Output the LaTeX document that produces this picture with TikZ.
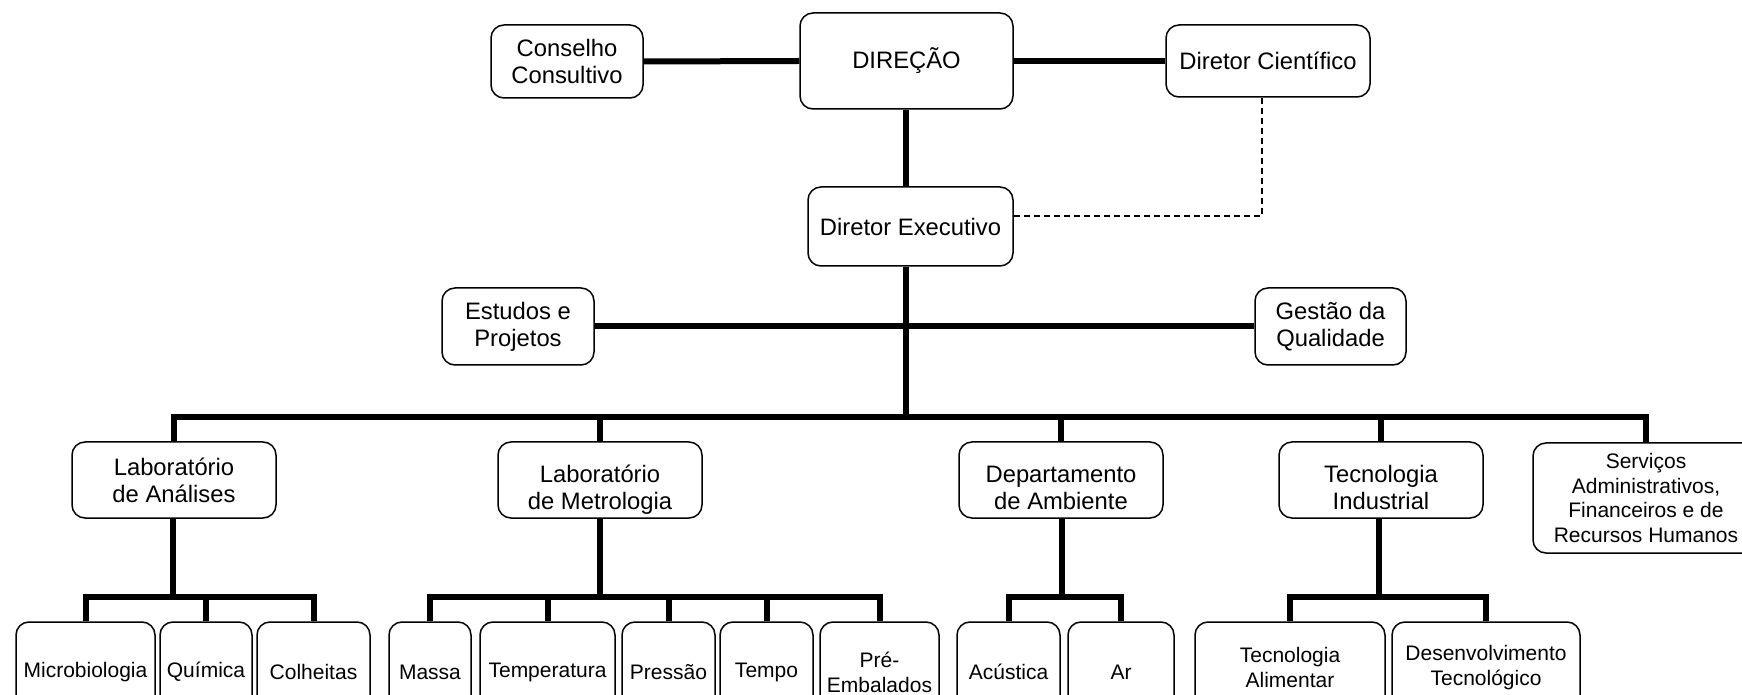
\documentclass[tikz,border=0pt]{standalone}
\usepackage{fontspec}
\setmainfont{Liberation Sans}
\begin{document}
\begin{tikzpicture}[x=0.5pt,y=-0.5pt,
  box/.style={draw, rounded corners=6.5pt, line width=0.75pt, align=center, inner sep=1pt,
    font=\fontsize{11.9}{13.5}\selectfont},
  sbox/.style={box, font=\fontsize{10.5}{12.4}\selectfont},
  sz/.style 2 args={minimum width=#1*0.5pt, minimum height=#2*0.5pt},
  conn/.style={line width=3pt, line join=miter},
  bar/.style={line width=2.6pt, line join=miter},
  dotted link/.style={line width=0.75pt, dash pattern=on 3pt off 2pt}]
\useasboundingbox (0,0) rectangle (1742,695);
% top level
\node[box, sz={152}{73}] (cons) at (567,61.5) {Conselho\\Consultivo};
\node[box, sz={213}{96}] (dir) at (906.5,61) {DIREÇÃO};
\node[box, sz={204}{72}] (dcient) at (1268,61) {Diretor Científico};
\node[box, sz={205}{79}] (dexec) at (910.5,226.5) {Diretor Executivo};
\node[box, sz={152}{77}] (est) at (518,326.5) {Estudos e\\Projetos};
\node[box, sz={151}{77}] (gest) at (1330.5,326.5) {Gestão da\\Qualidade};
% level 2
\node[box, sz={204}{76}] (labA) at (174,480) {Laboratório\\de Análises};
\node[box, sz={204}{76}] (labM) at (600,480) {\rule{0pt}{18.5pt}Laboratório\\de Metrologia};
\node[box, sz={204}{76}] (dep) at (1061,480) {\rule{0pt}{16.5pt}Departamento\\de Ambiente};
\node[box, sz={204}{76}] (tec) at (1381,480) {\rule{0pt}{16.5pt}Tecnologia\\Industrial};
\node[sbox, sz={226}{110}] (serv) at (1646,498) {Serviços\\Administrativos,\\Financeiros e de\\Recursos Humanos};
% level 3
\node[sbox, sz={139}{100}] (micro) at (85.5,672) {Microbiologia};
\node[sbox, sz={92}{100}] (quim) at (206,672) {Química};
\node[sbox, sz={113}{100}] (colh) at (313.5,672) {Colheitas};
\node[sbox, sz={82}{100}] (massa) at (430,672) {Massa};
\node[sbox, sz={135}{100}] (temp) at (547.5,672) {Temperatura};
\node[sbox, sz={93}{100}] (press) at (668.5,672) {Pressão};
\node[sbox, sz={93}{100}] (tempo) at (766.5,672) {Tempo};
\node[sbox, sz={119}{100}] (pre) at (879.5,672) {Pré-\\Embalados};
\node[sbox, sz={103}{100}] (acus) at (1008.5,672) {Acústica};
\node[sbox, sz={106}{100}] (ar) at (1121,672) {Ar};
\node[sbox, sz={190}{100}] (talim) at (1290,672) {Tecnologia\\Alimentar\rule[-5pt]{0pt}{0pt}};
\node[sbox, sz={188}{100}] (desenv) at (1486,672) {Desenvolvimento\\Tecnológico\rule[-7pt]{0pt}{0pt}};
% coordinates
\coordinate (vx) at (906,0);
\coordinate (mb) at (906,417);
\coordinate (dc) at (1262,216);
\coordinate (sbA) at (173,597);
\coordinate (sbM) at (600,597);
\coordinate (sbD) at (1062,597);
\coordinate (sbT) at (1379,597);
% connectors top
\draw[conn] (cons.east) -- (dir.west);
\draw[conn] (dir.east) -- (dcient.west);
\draw[conn] (vx |- dir.south) -- (vx |- dexec.north);
\draw[conn] (vx |- dexec.south) -- (mb);
\draw[conn] (est.east) -- (gest.west);
\draw[dotted link] (dexec.east |- dc) -- (dc) -- (dc |- dcient.south);
% main bar
\draw[bar] (labA.north) |- (mb) -| (serv.north);
\draw[bar] (labM.north) -- (labM.north |- mb);
\draw[bar] (dep.north) -- (dep.north |- mb);
\draw[bar] (tec.north) -- (tec.north |- mb);
% sub trees
\draw[conn] (sbA |- labA.south) -- (sbA);
\draw[conn] (micro.north) |- (sbA) -| (colh.north);
\draw[conn] (quim.north) -- (quim.north |- sbA);
\draw[conn] (sbM |- labM.south) -- (sbM);
\draw[conn] (massa.north) |- (sbM) -| (pre.north);
\draw[conn] (temp.north) -- (temp.north |- sbM);
\draw[conn] (press.north) -- (press.north |- sbM);
\draw[conn] (tempo.north) -- (tempo.north |- sbM);
\draw[conn] (sbD |- dep.south) -- (sbD);
\draw[conn] (acus.north) |- (sbD) -| (ar.north);
\draw[conn] (sbT |- tec.south) -- (sbT);
\draw[conn] (talim.north) |- (sbT) -| (desenv.north);
\end{tikzpicture}
\end{document}
